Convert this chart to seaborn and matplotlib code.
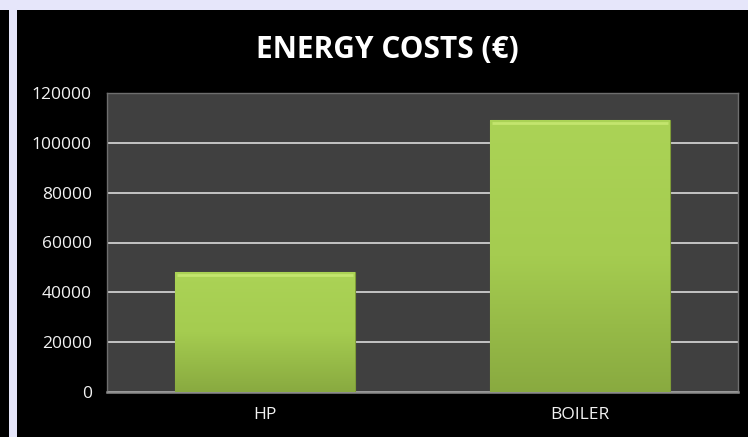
import numpy as np
import pandas as pd
import matplotlib
matplotlib.use("Agg")
import matplotlib.pyplot as plt
import seaborn as sns
from matplotlib.patches import Rectangle
from matplotlib.colors import LinearSegmentedColormap

categories = ["HP", "BOILER"]
costs = [48000, 109000]
yticks = [0, 20000, 40000, 60000, 80000, 100000, 120000]

sns.set_theme(style="dark")
plt.rcParams['font.family'] = ['Open Sans', 'DejaVu Sans']

fig = plt.figure(figsize=(7.48, 4.37), dpi=100, facecolor="black")
# lavender frame strips
fig.patches.append(Rectangle((0, 1 - 10/437), 1, 10/437, transform=fig.transFigure,
                             facecolor="#e6e6fa", edgecolor="none", zorder=0))
fig.patches.append(Rectangle((9/748, 0), 8/748, 1, transform=fig.transFigure,
                             facecolor="#e6e6fa", edgecolor="none", zorder=0))

ax = fig.add_axes([107/748, 1 - 392/437, (738 - 107)/748, (392 - 93)/437])
ax.set_facecolor("#404040")

df = pd.DataFrame({"cat": categories, "cost": costs})
sns.barplot(data=df, x="cat", y="cost", ax=ax, color="#a2c94f", width=0.57,
            edgecolor="#7f9c38", linewidth=0.8, zorder=3)

ax.set_ylim(0, 120000)
ax.set_yticks(yticks)
ax.set_yticklabels([str(v) for v in yticks])
ax.grid(axis="y", color="#c4c4c4", linewidth=1.4, zorder=1)
ax.grid(axis="x", visible=False)
ax.set_axisbelow(True)

# gradient fill clipped to each bar
cmap = LinearSegmentedColormap.from_list("g", ["#89aa40", "#a5cc50", "#abd356"])
grad = np.linspace(0, 1, 256).reshape(-1, 1)
for p in ax.patches:
    x0, y0 = p.get_x(), p.get_y()
    w, h = p.get_width(), p.get_height()
    im = ax.imshow(grad, extent=[x0, x0 + w, y0, y0 + h], origin="lower",
                   cmap=cmap, aspect="auto", zorder=4)
    im.set_clip_path(p)
    # bevel highlight at top
    ax.plot([x0 + w*0.01, x0 + w*0.99], [y0 + h - 1200, y0 + h - 1200],
            color="#c3e56e", lw=2.0, zorder=5, solid_capstyle="butt")
ax.set_xlim(-0.5, 1.5)
ax.set_ylim(0, 120000)

ax.set_xlabel("")
ax.set_ylabel("")
ax.tick_params(axis="both", colors="#f2f2f2", labelsize=12.5, length=0)
ax.tick_params(axis="y", pad=11)
ax.tick_params(axis="x", pad=11)
for lab in ax.get_xticklabels() + ax.get_yticklabels():
    lab.set_color("#f2f2f2")

for side, sp in ax.spines.items():
    sp.set_visible(True)
    sp.set_color("#6e6e6e")
    sp.set_linewidth(1.0)
ax.spines["bottom"].set_color("#8c8c8c")
ax.spines["bottom"].set_linewidth(1.8)

fig.text(387/748, 1 - 50/437, "ENERGY COSTS (€)", color="white", fontsize=21.5,
         fontweight="bold", ha="center", va="center")

fig.savefig("out.png", dpi=100, facecolor=fig.get_facecolor())
